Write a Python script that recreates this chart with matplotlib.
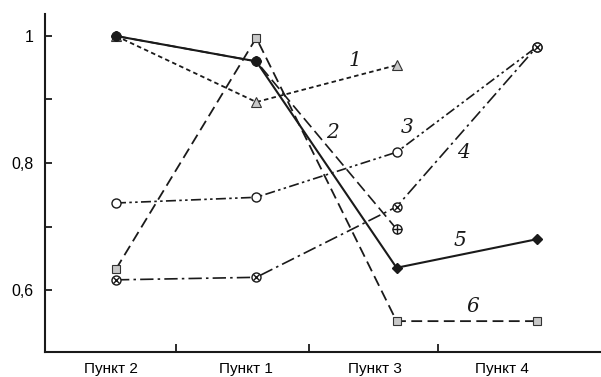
import numpy as np
import matplotlib.pyplot as plt

# points along the route
points = ['Пункт 2', 'Пункт 1', 'Пункт 3', 'Пункт 4']

s1 = [1.0, 0.896, 0.954]
s2 = [1.0, 0.960, 0.696]
s3 = [0.737, 0.746, 0.817, 0.983]
s4 = [0.616, 0.620, 0.731, 0.983]
s5 = [1.0, 0.960, 0.635, 0.680]
s6 = [0.633, 0.997, 0.551, 0.551]

gray = '#c8c8c8'
ink = '#1a1a1a'

fig = plt.figure(figsize=(6.01, 3.77), dpi=100)
ax = fig.add_axes([45 / 601, 25 / 377, 555 / 601, 338 / 377])

def xs(vals):
    return np.arange(len(vals))

# 6 - dashed, grey squares
ax.plot(xs(s6), s6, color=ink, lw=1.3, dashes=(6, 3), marker='s', ms=5.5,
        mfc=gray, mec='#333333', mew=0.8, zorder=3)
# 1 - dotted, grey triangles
ax.plot(xs(s1), s1, color=ink, lw=1.3, dashes=(2.5, 1.8), marker='^', ms=7,
        mfc=gray, mec='#333333', mew=0.8, zorder=3)
# 3 - dash-dot-dot, open circles
ax.plot(xs(s3), s3, color=ink, lw=1.2, dashes=(6, 2, 1.5, 2, 1.5, 2),
        marker='o', ms=6.5, mfc='white', mec=ink, mew=1.0, zorder=3)
# 4 - dash-dot, circled cross
ax.plot(xs(s4), s4, color=ink, lw=1.2, dashes=(8, 2.5, 1.5, 2.5),
        marker='o', ms=6.5, mfc='white', mec=ink, mew=1.0, zorder=4)
ax.plot(xs(s4), s4, ls='none', marker='x', ms=4, mec=ink, mew=1.0, zorder=5)
# 2 - long dashes, circled plus
ax.plot(xs(s2), s2, color=ink, lw=1.2, dashes=(7, 3), marker='o', ms=6.5,
        mfc='white', mec=ink, mew=1.0, zorder=4)
ax.plot(xs(s2), s2, ls='none', marker='+', ms=6.5, mec=ink, mew=1.0, zorder=5)
# 5 - solid, black diamonds
ax.plot(xs(s5), s5, color=ink, lw=1.5, marker='D', ms=5.5, mfc=ink, mec=ink,
        zorder=6)

ax.set_xlim(-0.506, 3.45)
ax.set_ylim(0.5024, 1.0346)

for side in ['top', 'right']:
    ax.spines[side].set_visible(False)
for side in ['left', 'bottom']:
    ax.spines[side].set_linewidth(1.5)
    ax.spines[side].set_color(ink)

ax.set_yticks([0.6, 0.7, 0.8, 0.9, 1.0])
ax.set_yticklabels(['0,6', '', '0,8', '', '1'])
ax.tick_params(axis='y', direction='in', length=5, width=1.3, color=ink,
               labelsize=11.5, pad=8)

# category labels and the separators between them
ax.set_xticks([-0.036, 0.927, 1.846, 2.751])
ax.set_xticklabels(points)
ax.set_xticks([0.428, 1.376, 2.295], minor=True)
ax.tick_params(axis='x', which='major', length=0, labelsize=11, pad=7)
ax.tick_params(axis='x', which='minor', direction='in', length=6, width=1.3,
               color=ink)

for lab in ax.get_xticklabels() + ax.get_yticklabels():
    lab.set_family('Liberation Sans')

# curve numbers
tags = {'1': (355, 60), '2': (332, 132), '3': (407, 128),
        '4': (463, 153), '5': (460, 240), '6': (473, 307)}
for t, (px, py) in tags.items():
    fig.text(px / 601, 1 - py / 377, t, fontsize=14.5, style='italic',
             family='DejaVu Serif', ha='center', va='center', color=ink)

fig.savefig('out.png', dpi=100)
